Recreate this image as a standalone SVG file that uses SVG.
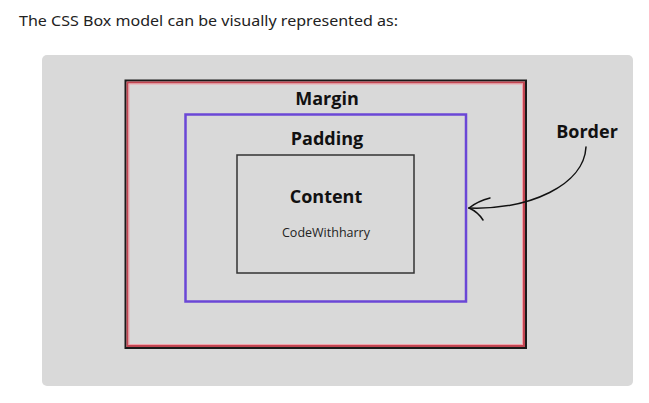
<svg xmlns="http://www.w3.org/2000/svg" width="649" height="403" viewBox="0 0 649 403">
<style>
.lbl{font-family:"Open Sans","Noto Sans",sans-serif;font-weight:bold;fill:#111;text-anchor:middle}
.sm{font-family:"Open Sans","Noto Sans",sans-serif;fill:#222;text-anchor:middle;font-size:12.5px}
</style>
<rect x="0" y="0" width="649" height="403" fill="#ffffff"/>
<text x="19" y="26" font-family="'Noto Sans',sans-serif" font-size="15" fill="#222" textLength="379" lengthAdjust="spacingAndGlyphs">The CSS Box model can be visually represented as:</text>
<rect x="42" y="55" width="591" height="331" rx="5" fill="#d9d9d9"/>
<g id="margin">
<rect x="125.5" y="80.5" width="400.5" height="267.5" fill="none" stroke="#1a1a1a" stroke-width="2"/>
<rect x="127.5" y="82.5" width="396.5" height="263.5" fill="none" stroke="#c24652" stroke-width="2"/>
<rect x="129" y="84" width="393.5" height="260.5" fill="none" stroke="#f2a3ab" stroke-width="1"/>
<text class="lbl" x="327" y="105" font-size="18">Margin</text>
</g>
<g id="padding">
<rect x="185.5" y="114.5" width="280.5" height="187" fill="none" stroke="#6b47d6" stroke-width="2.5"/>
<text class="lbl" x="327" y="145" font-size="18">Padding</text>
</g>
<g id="content">
<rect x="237" y="155" width="177" height="118" fill="none" stroke="#333" stroke-width="1.5"/>
<text class="lbl" x="326" y="203" font-size="18">Content</text>
<text class="sm" x="326" y="237">CodeWithharry</text>
</g>
<g id="border-label">
<text class="lbl" x="587" y="138" font-size="18">Border</text>
</g>
<g id="connectors" fill="none" stroke="#111" stroke-width="1.5" stroke-linecap="round">
<path d="M586,147 C584,185 530,210 469,208"/>
<path d="M469,208 Q478,201 490,198"/>
<path d="M469,208 Q478,212 483,220"/>
</g>
</svg>
